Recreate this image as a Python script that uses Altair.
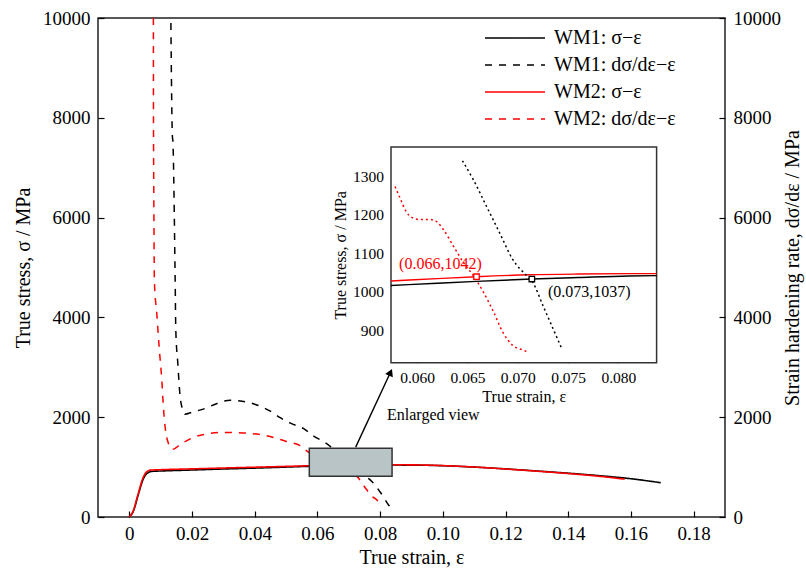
import altair as alt
import pandas as pd

FONT = "Liberation Serif"

# ---------------- data ----------------
series_names = ["WM1: σ−ε", "WM1: dσ/dε−ε", "WM2: σ−ε", "WM2: dσ/dε−ε"]

wm1_eps = [0, 0.0013, 0.0029, 0.0045, 0.0059, 0.0072, 0.010, 0.020, 0.030, 0.040, 0.050,
           0.0574, 0.0659, 0.0714, 0.081, 0.090, 0.100, 0.110, 0.120, 0.130, 0.140, 0.150,
           0.160, 0.1695]
wm1_sig = [0, 120, 460, 770, 885, 915, 922, 942, 962, 980, 1000,
           1016, 1027, 1033, 1041, 1040, 1028, 1000, 964, 922, 878, 828,
           767, 687]

wm2_eps = [0, 0.0011, 0.0027, 0.0043, 0.0055, 0.0068, 0.010, 0.020, 0.030, 0.040, 0.050,
           0.0574, 0.0659, 0.0712, 0.081, 0.090, 0.100, 0.110, 0.120, 0.130, 0.140, 0.150,
           0.158]
wm2_sig = [0, 100, 440, 775, 905, 940, 948, 965, 982, 998, 1014,
           1028, 1039, 1044, 1047, 1045, 1030, 1002, 962, 918, 870, 815,
           758]

wm1_rate_eps = [0.01325, 0.01374, 0.01387, 0.0146, 0.01482, 0.01546, 0.0162, 0.01674, 0.0177,
                0.0200, 0.0242, 0.0280, 0.0322, 0.0360, 0.0400, 0.0450, 0.0481, 0.0514,
                0.0556, 0.0588, 0.0620, 0.0647, 0.0669, 0.0695, 0.0715, 0.0735, 0.0750,
                0.0769, 0.0800, 0.0828, 0.0838]
wm1_rate = [9900, 7614, 7548, 4811, 3744, 3077, 2408, 2208, 2060,
            2100, 2176, 2276, 2342, 2320, 2260, 2120, 1990, 1880,
            1770, 1620, 1508, 1380, 1222, 1084, 1024, 904, 820,
            740, 500, 230, 150]

wm2_rate_eps = [0.00767, 0.0077, 0.0078, 0.0080, 0.00875, 0.0095, 0.01035, 0.01086, 0.0114,
                0.01246, 0.0137, 0.0167, 0.0210, 0.0258, 0.0300, 0.0386, 0.0471, 0.0503,
                0.0545, 0.0567, 0.0600, 0.0636, 0.0666, 0.0695, 0.0727, 0.0742, 0.0758,
                0.0769, 0.0790, 0.0806]
wm2_rate = [10000, 8000, 6500, 4700, 4078, 3409, 2743, 2208, 1808,
            1475, 1355, 1475, 1608, 1675, 1695, 1675, 1575, 1508,
            1430, 1320, 1190, 1119, 998, 860, 807, 674, 540,
            440, 340, 206]

# enlarged-view box (main axes) and inset ranges
box_eps = [0.0574, 0.0838]
box_sig = [815, 1377]

# inset curves
in_wm1_eps = [0.0574, 0.0620, 0.0659, 0.0714, 0.0760, 0.0810, 0.0838]
in_wm1_sig = [1016, 1022, 1027, 1033, 1037, 1041, 1042]
in_wm2_eps = [0.0574, 0.0620, 0.0659, 0.0712, 0.0760, 0.0810, 0.0838]
in_wm2_sig = [1028, 1034, 1039, 1044, 1046, 1047, 1047]
in_wm1_rate_eps = [0.0645, 0.0656, 0.0669, 0.0682, 0.0695, 0.0709, 0.0715, 0.0725, 0.0735, 0.0744]
in_wm1_rate = [1341, 1291, 1222, 1153, 1084, 1041, 1024, 964, 904, 850]
in_wm2_rate_eps = [0.0578, 0.0583, 0.0589, 0.0596, 0.0603, 0.0613, 0.0619, 0.0626, 0.0636,
                   0.0646, 0.0656, 0.0666, 0.0676, 0.0685, 0.0695, 0.0705, 0.0710]
in_wm2_rate = [1274, 1244, 1209, 1192, 1188, 1188, 1183, 1162, 1119,
               1076, 1041, 998, 947, 895, 860, 848, 843]

mark_eps = [0.0659, 0.0714]
mark_sig = [1039, 1033]
mark_text = ["(0.066,1042)", "(0.073,1037)"]
mark_colors = ["red", "black"]
label_eps = [0.0582, 0.0730]
label_sig = [1072, 999]

arrow_eps = [0.0722, 0.0833]
arrow_sig = [1400, 2900]
note_eps = [0.0822]
note_sig = [2042]
note_text = ["Enlarged view"]

x_ticks = [0, 0.02, 0.04, 0.06, 0.08, 0.10, 0.12, 0.14, 0.16, 0.18]
y_ticks = [0, 2000, 4000, 6000, 8000, 10000]
in_x_ticks = [0.060, 0.065, 0.070, 0.075, 0.080]
in_y_ticks = [900, 1000, 1100, 1200, 1300]

# ---------------- frames ----------------
stress_df = pd.concat([
    pd.DataFrame({"eps": wm1_eps, "val": wm1_sig, "series": series_names[0]}),
    pd.DataFrame({"eps": wm2_eps, "val": wm2_sig, "series": series_names[2]}),
])
rate_df = pd.concat([
    pd.DataFrame({"eps": wm1_rate_eps, "val": wm1_rate, "series": series_names[1]}),
    pd.DataFrame({"eps": wm2_rate_eps, "val": wm2_rate, "series": series_names[3]}),
])

W, H = 627, 499
PL, PT = 98, 18
PAD = {"left": PL, "top": PT, "right": 806 - PL - W, "bottom": 569 - PT - H}

XMAIN = alt.Scale(domain=[-0.01, 0.19], nice=False, zero=False)
YMAIN = alt.Scale(domain=[0, 10000], nice=False, zero=False)
IN_L, IN_R, IN_B, IN_T = 293.0, 558.6, 344.7, 129.0
XIN = alt.Scale(domain=box_eps, range=[IN_L, IN_R], nice=False, zero=False)
YIN = alt.Scale(domain=box_sig, range=[IN_B, IN_T], nice=False, zero=False)

color_scale = alt.Scale(domain=series_names, range=["black", "black", "red", "red"])
dash_scale = alt.Scale(domain=series_names, range=[[1, 0], [7, 7], [1, 0], [7, 7]])
legend = alt.Legend(orient="none", legendX=406, legendY=9, title=None,
                    symbolType="M-3,0L3,0", symbolSize=400, symbolStrokeWidth=1.5,
                    labelFont=FONT, labelFontSize=20, labelOffset=28, rowPadding=6,
                    padding=0, labelLimit=400, labelColor="black")

TICK = 6
main_x_axis = alt.Axis(orient="bottom", values=x_ticks,
                       labelExpr="datum.value == 0 ? '0' : format(datum.value, '.2f')",
                       domain=False, tickSize=TICK, offset=-TICK, labelPadding=7,
                       labelFontSize=19, title="True strain, ε", titleFontSize=20,
                       titlePadding=4, labelFlush=False, grid=False)
main_y_axis = alt.Axis(orient="left", values=y_ticks, format="d", domain=False,
                       tickSize=TICK, offset=-TICK, labelPadding=8, labelFontSize=19,
                       title="True stress, σ / MPa", titleFontSize=20, titlePadding=9,
                       grid=False)
right_y_axis = alt.Axis(orient="right", values=y_ticks, format="d", domain=False,
                        tickSize=TICK, offset=-TICK, labelPadding=8, labelFontSize=19,
                        title="Strain hardening rate, dσ/dε / MPa", titleFontSize=20,
                        titlePadding=22, titleAngle=270, grid=False)

ITICK = 5
in_x_axis = alt.Axis(orient="bottom", values=in_x_ticks, format=".3f", domain=False,
                     tickSize=ITICK, offset=-(H - IN_B) - ITICK, labelPadding=8,
                     labelFontSize=15.5, title="True strain, ε", titleFontSize=16,
                     titlePadding=2, labelFlush=False, grid=False)
in_y_axis = alt.Axis(orient="left", values=in_y_ticks, format="d", domain=False,
                     tickSize=ITICK, offset=-IN_L - ITICK, labelPadding=7.5,
                     labelFontSize=15.5, title="True stress, σ / MPa", titleFontSize=16,
                     titlePadding=4, grid=False)


def xm(field="eps", axis=None):
    return alt.X(f"{field}:Q", scale=XMAIN, axis=axis)


def ym(field="val", axis=None):
    return alt.Y(f"{field}:Q", scale=YMAIN, axis=axis)


def xi(field="eps", axis=None):
    return alt.X(f"{field}:Q", scale=XIN, axis=axis)


def yi(field="val", axis=None):
    return alt.Y(f"{field}:Q", scale=YIN, axis=axis)


# ---------------- main layers ----------------
stress = alt.Chart(stress_df).mark_line(strokeWidth=1.6, interpolate="monotone").encode(
    x=xm(axis=main_x_axis), y=ym(axis=main_y_axis),
    color=alt.Color("series:N", scale=color_scale, legend=legend),
    strokeDash=alt.StrokeDash("series:N", scale=dash_scale, legend=legend),
)
rate = alt.Chart(rate_df).mark_line(strokeWidth=1.5, interpolate="monotone").encode(
    x=xm(), y=ym(axis=right_y_axis),
    color=alt.Color("series:N", scale=color_scale, legend=legend),
    strokeDash=alt.StrokeDash("series:N", scale=dash_scale, legend=legend),
)

box_df = pd.DataFrame({"x1": [box_eps[0]], "x2": [box_eps[1]],
                       "y1": [box_sig[0]], "y2": [box_sig[1]]})
box = alt.Chart(box_df).mark_rect(fill="#b8c4c6", stroke="#333333", strokeWidth=1.5).encode(
    x=xm("x1"), x2="x2", y=ym("y1"), y2="y2")

arrow_df = pd.DataFrame({"eps": arrow_eps, "val": arrow_sig})
arrow = alt.Chart(arrow_df).mark_line(color="black", strokeWidth=1.4).encode(x=xm(), y=ym())
head_df = pd.DataFrame({"eps": [arrow_eps[1]], "val": [arrow_sig[1]]})
head = alt.Chart(head_df).mark_point(shape="triangle-up", filled=True, color="black",
                                     size=70, angle=24, opacity=1).encode(x=xm(), y=ym())
note_df = pd.DataFrame({"eps": note_eps, "val": note_sig, "t": note_text})
note = alt.Chart(note_df).mark_text(font=FONT, fontSize=16, align="left", baseline="middle",
                                    color="black").encode(x=xm(), y=ym(), text="t:N")

# ---------------- inset layers ----------------
frame_df = pd.DataFrame({"x1": [box_eps[0]], "x2": [box_eps[1]],
                         "y1": [box_sig[0]], "y2": [box_sig[1]]})
frame = alt.Chart(frame_df).mark_rect(fill="white", stroke="#333333", strokeWidth=1.5).encode(
    x=xi("x1", axis=in_x_axis), x2="x2", y=yi("y1", axis=in_y_axis), y2="y2")


def inset_line(eps, vals, color, dash):
    df = pd.DataFrame({"eps": eps, "val": vals})
    kw = dict(color=color, strokeWidth=1.4, interpolate="monotone")
    if dash:
        kw["strokeDash"] = [2, 3]
        kw["strokeWidth"] = 1.5
    return alt.Chart(df).mark_line(**kw).encode(x=xi(), y=yi())


in1 = inset_line(in_wm1_eps, in_wm1_sig, "black", False)
in2 = inset_line(in_wm2_eps, in_wm2_sig, "red", False)
in3 = inset_line(in_wm1_rate_eps, in_wm1_rate, "black", True)
in4 = inset_line(in_wm2_rate_eps, in_wm2_rate, "red", True)

pts_df = pd.DataFrame({"eps": mark_eps, "val": mark_sig, "c": mark_colors})
pts = alt.Chart(pts_df).mark_point(shape="square", size=30, filled=True, fill="white",
                                   strokeWidth=1.3, opacity=1).encode(
    x=xi(), y=yi(), stroke=alt.Stroke("c:N", scale=None))
lab_df = pd.DataFrame({"eps": label_eps, "val": label_sig, "t": mark_text, "c": mark_colors})
labs = alt.Chart(lab_df).mark_text(font=FONT, fontSize=16, align="left",
                                   baseline="middle").encode(
    x=xi(), y=yi(), text="t:N", color=alt.Color("c:N", scale=None))

chart = alt.layer(
    stress, rate, box, arrow, head, note, frame, in1, in2, in3, in4, pts, labs
).resolve_scale(
    x="independent", y="independent"
).properties(
    width=W, height=H, padding=PAD, autosize=alt.AutoSizeParams(type="none")
).configure_view(
    stroke="#222222", strokeWidth=1.5
).configure_axis(
    labelFont=FONT, titleFont=FONT, labelColor="black", titleColor="black",
    tickColor="black", tickWidth=1.2, titleFontWeight="normal"
)

chart.save("out.html", embed_options={"renderer": "svg", "actions": False})
